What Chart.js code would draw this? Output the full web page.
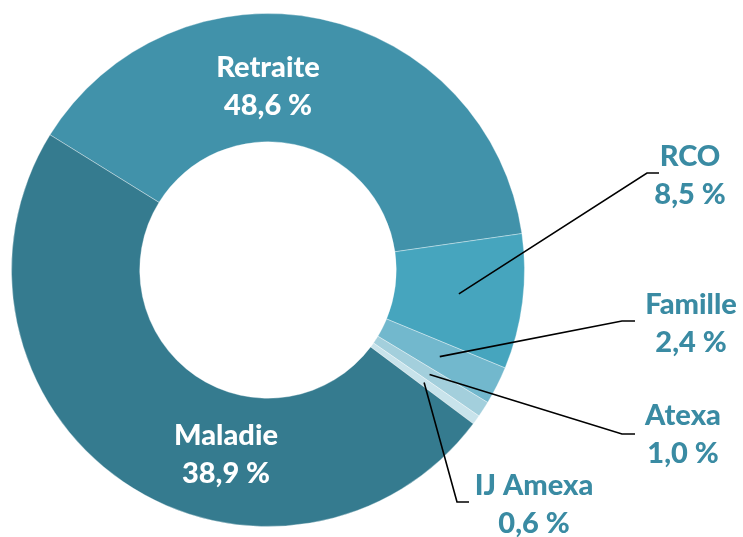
<!DOCTYPE html>
<html>
<head>
<meta charset="utf-8">
<script src="https://cdn.jsdelivr.net/npm/chart.js@4/dist/chart.umd.min.js"></script>
<style>
  body { margin: 0; background: #fff; }
  canvas { display: block; }
</style>
</head>
<body>
<canvas id="donut" width="743" height="537"></canvas>
<script>
// clockwise, starting from the upper-left edge of the top slice
const categories = ["Maladie", "RCO", "Famille", "Atexa", "IJ Amexa", "Retraite"];
const values = [38.9, 8.5, 2.4, 1.0, 0.6, 48.6];
const colors = ["#4192aa", "#46a5be", "#72b8cd", "#a3cfdc", "#c8e3eb", "#357b8f"];

// where each text block sits (the big labels sit as in the original picture)
const labelPos = [
  { x: 226, y: 455, inside: true },
  { x: 690, y: 176, elbow: [647, 173, 659, 173] },
  { x: 691, y: 324, elbow: [622, 321, 635, 321] },
  { x: 683, y: 435, elbow: [622, 434, 635, 434] },
  { x: 534, y: 505, elbow: [457, 502, 469, 502] },
  { x: 268, y: 87, inside: true },
];

function pct(v) {
  return v.toFixed(1).replace(".", ",") + " %";
}

const labelPlugin = {
  id: "labels",
  afterDatasetsDraw(chart) {
    const ctx = chart.ctx;
    const arcs = chart.getDatasetMeta(0).data;
    ctx.save();
    ctx.strokeStyle = "#000";
    ctx.lineWidth = 1.6;
    arcs.forEach((arc, i) => {
      const p = labelPos[i];
      if (p.elbow) {
        const c = arc.getCenterPoint();
        ctx.beginPath();
        ctx.moveTo(c.x, c.y);
        ctx.lineTo(p.elbow[0], p.elbow[1]);
        ctx.lineTo(p.elbow[2], p.elbow[3]);
        ctx.stroke();
      }
    });
    ctx.font = "900 29px Lato";
    ctx.textAlign = "center";
    ctx.textBaseline = "middle";
    // the two big labels are swapped against their slices in the source
    const names = ["Retraite", "RCO", "Famille", "Atexa", "IJ Amexa", "Maladie"];
    const shares = [values[5], values[1], values[2], values[3], values[4], values[0]];
    const order = [5, 1, 2, 3, 4, 0];
    order.forEach((k, i) => {
      const p = labelPos[k];
      ctx.fillStyle = p.inside ? "#ffffff" : "#3a8ba3";
      ctx.fillText(names[i], p.x, p.y - 19);
      ctx.fillText(pct(shares[i]), p.x, p.y + 19);
    });
    ctx.restore();
  },
};

new Chart(document.getElementById("donut"), {
  type: "doughnut",
  data: {
    labels: categories,
    datasets: [
      {
        data: values,
        backgroundColor: colors,
        borderColor: "rgba(255,255,255,0.35)",
        borderWidth: 1,
      },
    ],
  },
  options: {
    responsive: false,
    animation: false,
    rotation: -58.2,
    cutout: "50%",
    layout: { padding: { left: 11, right: 218, top: 13, bottom: 10 } },
    plugins: {
      legend: { display: false },
      tooltip: { enabled: false },
    },
  },
  plugins: [labelPlugin],
});
</script>
</body>
</html>
